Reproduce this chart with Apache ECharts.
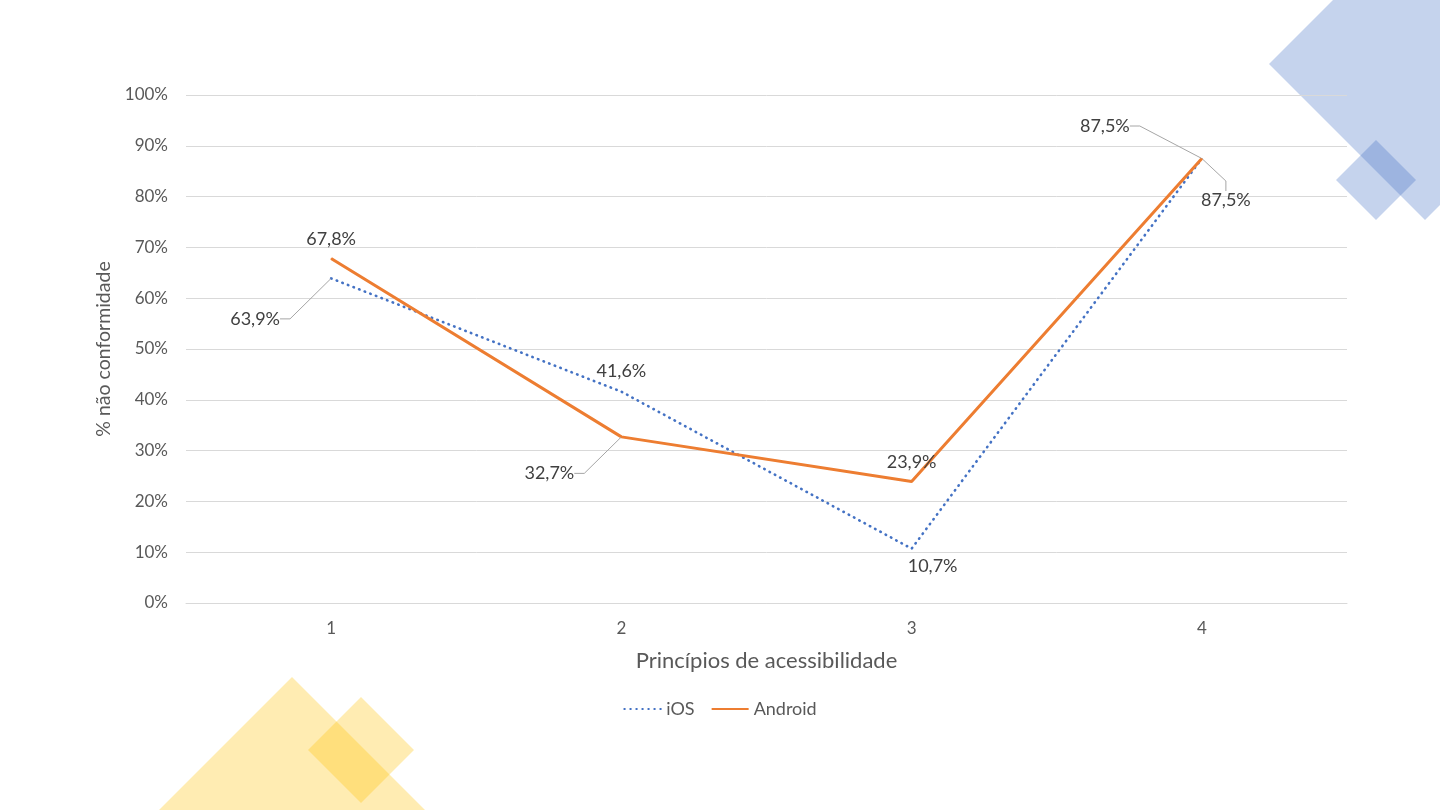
<!DOCTYPE html>
<html>
<head>
<meta charset="utf-8">
<script src="https://cdn.jsdelivr.net/npm/echarts@6/dist/echarts.min.js"></script>
<style>
  html, body { margin: 0; padding: 0; background: #ffffff; }
  #main { width: 1440px; height: 810px; }
</style>
</head>
<body>
<div id="main"></div>
<script>
// princípios de acessibilidade (eixo x)
var principios = ['1', '2', '3', '4'];
// % não conformidade por plataforma
var iosValores = [63.9, 41.6, 10.7, 87.5];
var androidValores = [67.8, 32.7, 23.9, 87.5];
var yTicks = [0, 10, 20, 30, 40, 50, 60, 70, 80, 90, 100];

// deslocamento dos rótulos (dx, dy) por série / ponto
var rotuloDesloc = {
    0: [[-76, 55], [0, -6], [21, 3], [24, 27]],
    1: [[0, -5], [-72, 51], [0, -5], [-97, -18]]
};
var rotuloPos = {
    0: ['top', 'top', 'bottom', 'bottom'],
    1: ['top', 'top', 'top', 'top']
};
var comLinha = {
    0: [true, false, false, true],
    1: [false, true, false, true]
};

var fonte = 'Lato, "Open Sans", sans-serif';

function montaDados(valores, s) {
    return valores.map(function (v, i) {
        return {
            value: v,
            label: { position: rotuloPos[s][i] },
            labelLine: { show: comLinha[s][i] }
        };
    });
}

function rotulo(p) {
    return p.value.toFixed(1).replace('.', ',') + '%';
}

var chart = echarts.init(document.getElementById('main'));
chart.setOption({
    backgroundColor: '#ffffff',
    textStyle: { fontFamily: fonte },
    graphic: [
        // decoração azul (canto superior direito)
        { type: 'polygon', z: -10, silent: true,
          shape: { points: [[1269, 64], [1425, -92], [1581, 64], [1425, 220]] },
          style: { fill: 'rgba(68,114,196,0.31)' } },
        { type: 'polygon', z: -10, silent: true,
          shape: { points: [[1336, 180], [1376, 140], [1416, 180], [1376, 220]] },
          style: { fill: 'rgba(68,114,196,0.31)' } },
        // decoração amarela (canto inferior esquerdo)
        { type: 'polygon', z: -10, silent: true,
          shape: { points: [[159, 810], [292, 677], [425, 810], [292, 943]] },
          style: { fill: 'rgba(255,192,0,0.3)' } },
        { type: 'polygon', z: -10, silent: true,
          shape: { points: [[308, 750], [361, 697], [414, 750], [361, 803]] },
          style: { fill: 'rgba(255,192,0,0.3)' } }
    ],
    grid: { left: 186, right: 93, top: 95, bottom: 207, containLabel: false },
    legend: {
        bottom: 87,
        left: 'center',
        itemWidth: 37,
        itemHeight: 14,
        itemGap: 16,
        itemStyle: { opacity: 0 },
        textStyle: { color: '#595959', fontSize: 18, fontFamily: fonte },
        data: ['iOS', 'Android']
    },
    xAxis: {
        type: 'category',
        data: principios,
        boundaryGap: true,
        name: 'Princípios de acessibilidade',
        nameLocation: 'middle',
        nameGap: 47,
        nameTextStyle: { color: '#595959', fontSize: 22, fontFamily: fonte },
        axisLine: { lineStyle: { color: '#d9d9d9', width: 1 } },
        axisTick: { show: false },
        axisLabel: { color: '#595959', fontSize: 17, margin: 17, fontFamily: fonte }
    },
    yAxis: {
        type: 'value',
        min: yTicks[0],
        max: yTicks[yTicks.length - 1],
        interval: 10,
        name: '% não conformidade',
        nameLocation: 'middle',
        nameGap: 67,
        nameTextStyle: { color: '#595959', fontSize: 19.5, fontFamily: fonte },
        axisLine: { show: false },
        axisTick: { show: false },
        axisLabel: { color: '#595959', fontSize: 17, margin: 18, formatter: '{value}%', fontFamily: fonte },
        splitLine: { lineStyle: { color: '#d9d9d9', width: 1 } }
    },
    series: [
        {
            name: 'iOS',
            type: 'line',
            data: montaDados(iosValores, 0),
            symbol: 'circle',
            symbolSize: 1,
            itemStyle: { color: '#4472c4' },
            lineStyle: { color: '#4472c4', width: 2.6, type: [0.5, 5.5], cap: 'round' },
            label: {
                show: true,
                color: '#404040',
                fontSize: 18,
                fontFamily: fonte,
                formatter: rotulo
            },
            labelLine: { show: true, length2: 10, lineStyle: { color: '#a6a6a6', width: 1 } },
            labelLayout: function (p) {
                var d = rotuloDesloc[0][p.dataIndex];
                return { dx: d[0], dy: d[1] };
            },
            z: 3
        },
        {
            name: 'Android',
            type: 'line',
            data: montaDados(androidValores, 1),
            symbol: 'circle',
            symbolSize: 1,
            itemStyle: { color: '#ed7d31' },
            lineStyle: { color: '#ed7d31', width: 3 },
            label: {
                show: true,
                color: '#404040',
                fontSize: 18,
                fontFamily: fonte,
                formatter: rotulo
            },
            labelLine: { show: true, length2: 10, lineStyle: { color: '#a6a6a6', width: 1 } },
            labelLayout: function (p) {
                var d = rotuloDesloc[1][p.dataIndex];
                return { dx: d[0], dy: d[1] };
            },
            z: 4
        }
    ]
});
</script>
</body>
</html>
